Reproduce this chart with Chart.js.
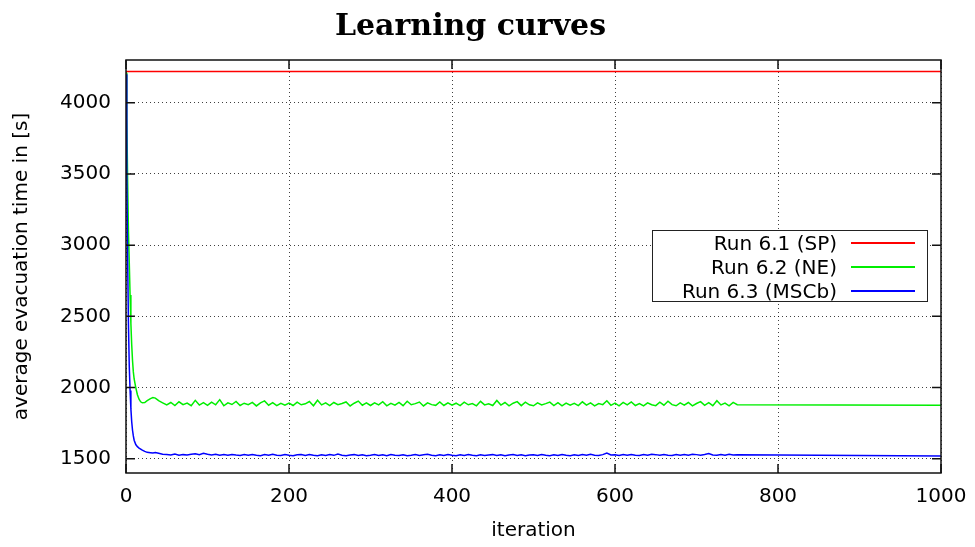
<!DOCTYPE html>
<html lang="en">
<head>
    <meta charset="UTF-8">
    <title>Learning curves</title>
    <script src="https://cdn.jsdelivr.net/npm/chart.js@4.4.1/dist/chart.umd.min.js"></script>
    <style>
        body {
            margin: 0;
            background: #fff;
        }
        .wrap {
            position: relative;
            width: 975px;
            height: 547px;
        }
        #legend {
            position: absolute;
            left: 652px;
            top: 230px;
            width: 276px;
            height: 72px;
            box-sizing: border-box;
            border: 1.5px solid #222;
            background: #fff;
            font-family: 'DejaVu Sans', sans-serif;
            font-size: 20px;
        }
        .row {
            display: flex;
            align-items: center;
            height: 24px;
        }
        .row span {
            width: 184px;
            text-align: right;
        }
        .row i {
            display: block;
            margin-left: 14px;
            width: 64px;
            height: 1.5px;
        }
    </style>
</head>
<body>
    <div class="wrap">
        <canvas id="chart" width="975" height="547"></canvas>
        <div id="legend"></div>
    </div>

    <script>
        // iterations (x values)
        const iterations = [
            0, 1, 2, 3, 4, 5, 6, 7, 8, 9, 10, 12, 14, 16, 18, 20, 23, 26, 30, 33, 36, 40, 45,
            50, 55, 60, 65, 70, 75, 80, 85, 90, 95,
            100, 105, 110, 115, 120, 125, 130, 135, 140, 145,
            150, 155, 160, 165, 170, 175, 180, 185, 190, 195,
            200, 205, 210, 215, 220, 225, 230, 235, 240, 245,
            250, 255, 260, 265, 270, 275, 280, 285, 290, 295,
            300, 305, 310, 315, 320, 325, 330, 335, 340, 345,
            350, 355, 360, 365, 370, 375, 380, 385, 390, 395,
            400, 405, 410, 415, 420, 425, 430, 435, 440, 445,
            450, 455, 460, 465, 470, 475, 480, 485, 490, 495,
            500, 505, 510, 515, 520, 525, 530, 535, 540, 545,
            550, 555, 560, 565, 570, 575, 580, 585, 590, 595,
            600, 605, 610, 615, 620, 625, 630, 635, 640, 645,
            650, 655, 660, 665, 670, 675, 680, 685, 690, 695,
            700, 705, 710, 715, 720, 725, 730, 735, 740, 745,
            750, 1000
        ];

        // Run 6.2 (NE)
        const runNE = [
            4210, 3900, 3450, 3100, 2880, 2650, 2450, 2300, 2190, 2110, 2060, 2000, 1950, 1918, 1900, 1893, 1895, 1908, 1922, 1930, 1926, 1908, 1893,
            1878, 1895, 1874, 1900, 1880, 1891, 1873, 1910, 1877, 1894,
            1875, 1898, 1879, 1915, 1872, 1893, 1881, 1902, 1874, 1890,
            1880, 1896, 1871, 1892, 1906, 1876, 1894, 1873, 1889, 1877,
            1891, 1874, 1897, 1879, 1886, 1902, 1872, 1911, 1878, 1893,
            1873, 1895, 1880, 1888, 1899, 1871, 1890, 1905, 1876, 1892,
            1874, 1893, 1878, 1901, 1872, 1889, 1877, 1896, 1873, 1904,
            1879, 1887, 1898, 1871, 1892, 1880, 1875, 1899, 1874, 1893,
            1877, 1890, 1873, 1897, 1879, 1888, 1872, 1903, 1878, 1886,
            1874, 1909, 1877, 1895, 1871, 1890, 1901, 1873, 1897, 1879,
            1872, 1892, 1878, 1887, 1898, 1874, 1894, 1871, 1891, 1876,
            1889, 1873, 1900, 1877, 1893, 1872, 1888, 1880, 1907, 1875,
            1891, 1872, 1896, 1878, 1899, 1874, 1887, 1871, 1893, 1879,
            1873, 1897, 1876, 1904, 1880, 1872, 1892, 1877, 1895, 1871,
            1888, 1901, 1875, 1894, 1873, 1908, 1878, 1891, 1872, 1896,
            1880, 1876
        ];

        // Run 6.3 (MSCb)
        const runMSCb = [
            4200, 3500, 2900, 2450, 2150, 1980, 1850, 1760, 1700, 1660, 1630, 1600, 1585, 1575, 1568, 1560, 1552, 1545, 1542, 1540, 1543, 1538, 1532,
            1530, 1526, 1533, 1525, 1529, 1527, 1532, 1535, 1528, 1538,
            1531, 1527, 1532, 1525, 1529, 1524, 1530, 1526, 1523, 1529,
            1524, 1530, 1525, 1522, 1529, 1524, 1532, 1525, 1523, 1529,
            1524, 1522, 1528, 1530, 1523, 1529, 1524, 1522, 1528, 1523,
            1529, 1524, 1533, 1525, 1522, 1527, 1529, 1523, 1528, 1522,
            1524, 1529, 1523, 1528, 1522, 1530, 1524, 1523, 1528, 1522,
            1524, 1529, 1523, 1528, 1531, 1524, 1522, 1528, 1523, 1529,
            1524, 1522, 1528, 1523, 1529, 1524, 1522, 1528, 1523, 1527,
            1529, 1523, 1528, 1522, 1527, 1530, 1523, 1528, 1522, 1527,
            1528, 1523, 1529, 1524, 1522, 1528, 1523, 1530, 1524, 1522,
            1528, 1523, 1529, 1524, 1531, 1525, 1523, 1529, 1540, 1527,
            1528, 1523, 1529, 1524, 1530, 1525, 1523, 1529, 1524, 1531,
            1529, 1524, 1530, 1525, 1523, 1529, 1524, 1530, 1525, 1532,
            1529, 1524, 1530, 1537, 1526, 1524, 1530, 1525, 1531, 1526,
            1528, 1520
        ];

        // Run 6.1 (SP) - constant
        const spIterations = [0, 1000];
        const runSP = [4220, 4220];

        const xTicks = [0, 200, 400, 600, 800, 1000];
        const yTicks = [1500, 2000, 2500, 3000, 3500, 4000];

        const toPoints = (xs, ys) => xs.map((x, i) => ({ x: x, y: ys[i] }));

        const font = { family: "'DejaVu Sans', sans-serif", size: 20 };

        // gnuplot style frame + inward ticks
        const framePlugin = {
            id: 'frame',
            afterDraw(chart) {
                const { ctx, chartArea: a, scales } = chart;
                ctx.save();
                ctx.strokeStyle = '#111';
                ctx.lineWidth = 1.5;
                ctx.beginPath();
                scales.x.ticks.forEach(t => {
                    const px = scales.x.getPixelForValue(t.value);
                    ctx.moveTo(px, a.bottom); ctx.lineTo(px, a.bottom - 9);
                    ctx.moveTo(px, a.top); ctx.lineTo(px, a.top + 9);
                });
                scales.y.ticks.forEach(t => {
                    const py = scales.y.getPixelForValue(t.value);
                    ctx.moveTo(a.left, py); ctx.lineTo(a.left + 9, py);
                    ctx.moveTo(a.right, py); ctx.lineTo(a.right - 9, py);
                });
                ctx.stroke();
                ctx.strokeRect(a.left, a.top, a.right - a.left, a.bottom - a.top);
                ctx.restore();
            }
        };

        const chart = new Chart(document.getElementById('chart'), {
            type: 'line',
            data: {
                datasets: [
                    { label: 'Run 6.1 (SP)', data: toPoints(spIterations, runSP), borderColor: '#ff0000', order: 2 },
                    { label: 'Run 6.2 (NE)', data: toPoints(iterations, runNE), borderColor: '#00ee00', order: 1 },
                    { label: 'Run 6.3 (MSCb)', data: toPoints(iterations, runMSCb), borderColor: '#0000ff', order: 0 }
                ]
            },
            options: {
                responsive: false,
                animation: false,
                layout: { padding: { top: 0, right: 34, bottom: 0, left: 0 } },
                elements: {
                    point: { radius: 0 },
                    line: { borderWidth: 1.5, tension: 0 }
                },
                plugins: {
                    legend: { display: false },
                    tooltip: { enabled: false },
                    title: {
                        display: true,
                        text: 'Learning curves',
                        color: '#000',
                        font: { family: "'DejaVu Serif', serif", size: 30, weight: 'bold', lineHeight: 1.2 },
                        padding: { top: 9, bottom: 15 }
                    }
                },
                scales: {
                    x: {
                        type: 'linear',
                        min: 0,
                        max: 1000,
                        afterBuildTicks: s => { s.ticks = xTicks.map(v => ({ value: v })); },
                        afterFit: s => { s.height = 74; s.paddingRight = 0; s.paddingLeft = 0; },
                        ticks: { color: '#000', font: font, padding: 12, maxRotation: 0, callback: v => String(v) },
                        grid: { color: 'rgba(0,0,0,0.75)', lineWidth: 1, drawTicks: false },
                        border: { display: false, dash: [1, 3] },
                        title: { display: true, text: 'iteration', color: '#000', font: font, padding: { top: 3 } }
                    },
                    y: {
                        min: 1400,
                        max: 4300,
                        afterBuildTicks: s => { s.ticks = yTicks.map(v => ({ value: v })); },
                        afterFit: s => { s.width = 126; s.paddingTop = 0; s.paddingBottom = 0; },
                        ticks: { color: '#000', font: font, padding: 15, callback: v => String(v) },
                        grid: { color: 'rgba(0,0,0,0.75)', lineWidth: 1, drawTicks: false },
                        border: { display: false, dash: [1, 3] },
                        title: { display: true, text: 'average evacuation time in [s]', color: '#000', font: font, padding: { top: 10 } }
                    }
                }
            },
            plugins: [framePlugin]
        });

        // legend: text on the left, line sample on the right (gnuplot style)
        const legend = document.getElementById('legend');
        chart.data.datasets.forEach(ds => {
            const row = document.createElement('div');
            row.className = 'row';
            row.innerHTML = '<span>' + ds.label + '</span><i style="background:' + ds.borderColor + '"></i>';
            legend.appendChild(row);
        });
    </script>
</body>
</html>
